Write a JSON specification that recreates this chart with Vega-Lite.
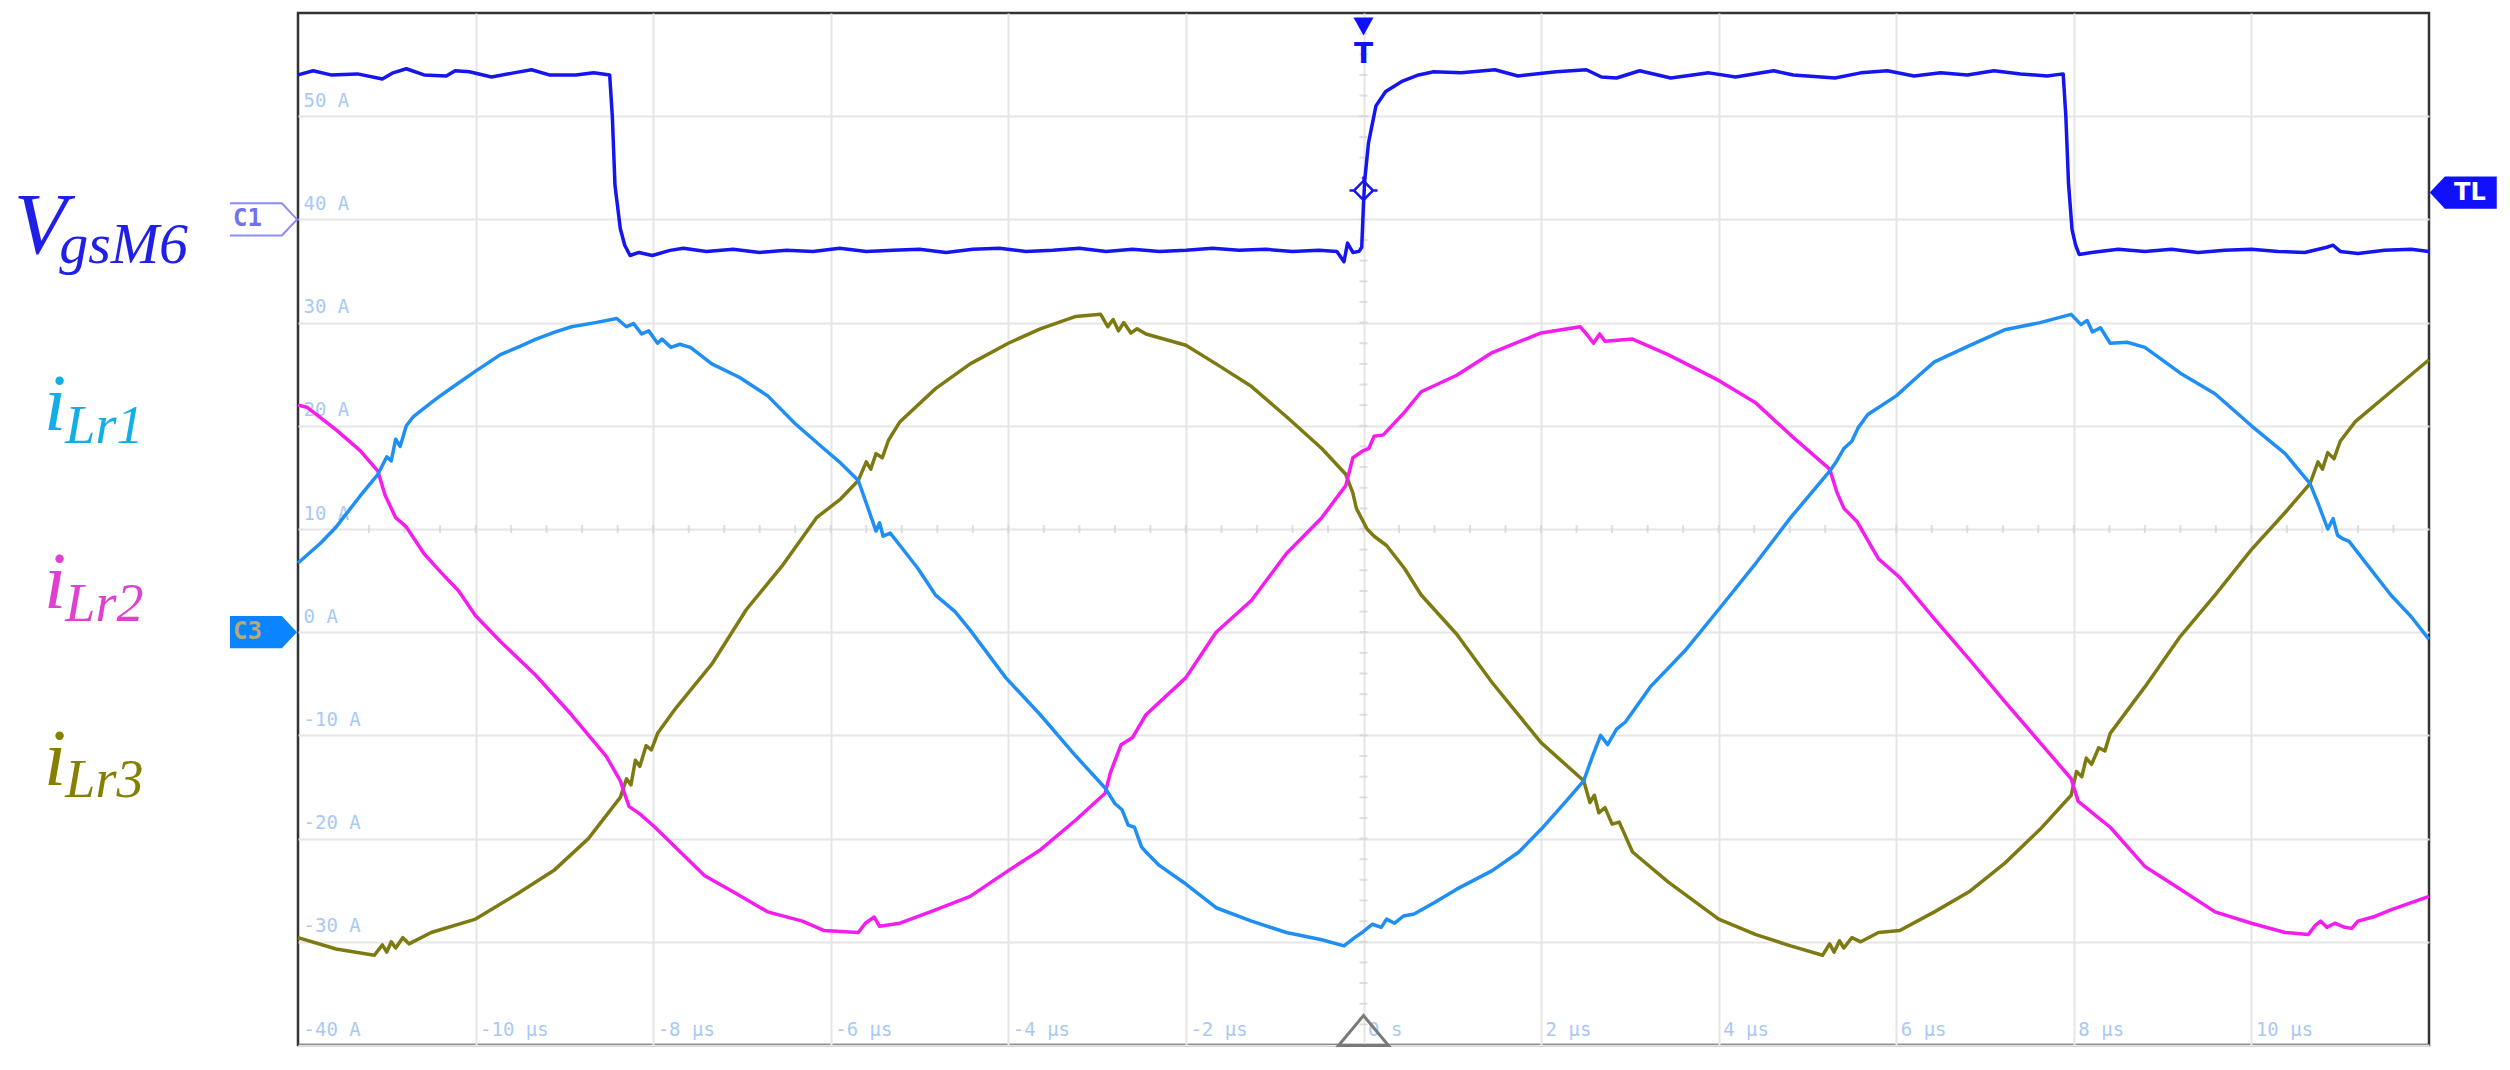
{
  "$schema": "https://vega.github.io/schema/vega-lite/v6.json",
  "autosize": {"type": "none"},
  "width": 2131,
  "height": 1032,
  "padding": {"left": 298, "top": 13, "right": 81, "bottom": 25},
  "background": "white",
  "config": {
    "view": {"stroke": "#333333", "strokeWidth": 2.5},
    "axis": {
      "grid": true, "gridColor": "#e6e6e6", "gridWidth": 2,
      "domain": false, "ticks": false, "tickSize": 0,
      "labelColor": "#a9c9f5", "labelFont": "DejaVu Sans Mono", "labelFontSize": 19,
      "labelFlush": false, "labelOverlap": false, "labelBound": false, "title": null
    }
  },
  "layer": [
    {
      "data": {"values": [{"t":-11.6},{"t":-11.2},{"t":-10.8},{"t":-10.4},{"t":-10},{"t":-9.6},{"t":-9.2},{"t":-8.8},{"t":-8.4},{"t":-8},{"t":-7.6},{"t":-7.2},{"t":-6.8},{"t":-6.4},{"t":-6},{"t":-5.6},{"t":-5.2},{"t":-4.8},{"t":-4.4},{"t":-4},{"t":-3.6},{"t":-3.2},{"t":-2.8},{"t":-2.4},{"t":-2},{"t":-1.6},{"t":-1.2},{"t":-0.8},{"t":-0.4},{"t":0},{"t":0.4},{"t":0.8},{"t":1.2},{"t":1.6},{"t":2},{"t":2.4},{"t":2.8},{"t":3.2},{"t":3.6},{"t":4},{"t":4.4},{"t":4.8},{"t":5.2},{"t":5.6},{"t":6},{"t":6.4},{"t":6.8},{"t":7.2},{"t":7.6},{"t":8},{"t":8.4},{"t":8.8},{"t":9.2},{"t":9.6},{"t":10},{"t":10.4},{"t":10.8},{"t":11.2},{"t":11.6}]},
      "mark": {"type": "tick", "orient": "vertical", "size": 8, "thickness": 2, "color": "#d2d2d2"},
      "encoding": {
        "x": {"field": "t", "type": "quantitative", "scale": {"domain": [-12, 12], "nice": false, "zero": false},
              "axis": {"orient": "bottom", "values": [-10,-8,-6,-4,-2,0,2,4,6,8,10], "labelAlign": "left", "labelBaseline": "alphabetic", "labelPadding": -10, "labelOffset": 4,
                       "labelExpr": "datum.value == 0 ? '0 s' : datum.value + ' µs'"}},
        "y": {"datum": 10, "type": "quantitative", "scale": {"domain": [-40, 60], "nice": false, "zero": false},
              "axis": {"orient": "left", "values": [-40,-30,-20,-10,0,10,20,30,40,50], "labelAlign": "left", "labelBaseline": "alphabetic", "labelPadding": -5, "labelOffset": -10,
                       "labelExpr": "datum.value + ' A'"}}
      }
    },
    {
      "data": {"values": [{"v":-38},{"v":-36},{"v":-34},{"v":-32},{"v":-30},{"v":-28},{"v":-26},{"v":-24},{"v":-22},{"v":-20},{"v":-18},{"v":-16},{"v":-14},{"v":-12},{"v":-10},{"v":-8},{"v":-6},{"v":-4},{"v":-2},{"v":0},{"v":2},{"v":4},{"v":6},{"v":8},{"v":10},{"v":12},{"v":14},{"v":16},{"v":18},{"v":20},{"v":22},{"v":24},{"v":26},{"v":28},{"v":30},{"v":32},{"v":34},{"v":36},{"v":38},{"v":40},{"v":42},{"v":44},{"v":46},{"v":48},{"v":50},{"v":52},{"v":54},{"v":56},{"v":58}]},
      "mark": {"type": "tick", "orient": "horizontal", "size": 8, "thickness": 2, "color": "#d2d2d2"},
      "encoding": {
        "x": {"datum": 0, "type": "quantitative"},
        "y": {"field": "v", "type": "quantitative"}
      }
    },
    {
      "data": {"values": [
        {"series":"iLr3","t":-12,"v":-29.6},{"series":"iLr3","t":-11.57,"v":-30.7},{"series":"iLr3","t":-11.14,"v":-31.3},{"series":"iLr3","t":-11.05,"v":-30.3},{"series":"iLr3","t":-11.0,"v":-31.0},{"series":"iLr3","t":-10.95,"v":-30.0},{"series":"iLr3","t":-10.9,"v":-30.6},{"series":"iLr3","t":-10.82,"v":-29.6},{"series":"iLr3","t":-10.75,"v":-30.2},{"series":"iLr3","t":-10.5,"v":-29.1},{"series":"iLr3","t":-10.0,"v":-27.8},{"series":"iLr3","t":-9.52,"v":-25.3},{"series":"iLr3","t":-9.12,"v":-23.1},{"series":"iLr3","t":-8.73,"v":-20.0},{"series":"iLr3","t":-8.37,"v":-16.0},{"series":"iLr3","t":-8.3,"v":-14.2},{"series":"iLr3","t":-8.25,"v":-14.8},{"series":"iLr3","t":-8.2,"v":-12.4},{"series":"iLr3","t":-8.15,"v":-13.0},{"series":"iLr3","t":-8.08,"v":-11.0},{"series":"iLr3","t":-8.02,"v":-11.4},{"series":"iLr3","t":-7.95,"v":-9.8},{"series":"iLr3","t":-7.74,"v":-7.3},{"series":"iLr3","t":-7.34,"v":-3.1},{"series":"iLr3","t":-6.95,"v":2.2},{"series":"iLr3","t":-6.55,"v":6.4},{"series":"iLr3","t":-6.16,"v":11.1},{"series":"iLr3","t":-5.89,"v":12.9},{"series":"iLr3","t":-5.69,"v":14.7},{"series":"iLr3","t":-5.6,"v":16.5},{"series":"iLr3","t":-5.55,"v":15.8},{"series":"iLr3","t":-5.49,"v":17.3},{"series":"iLr3","t":-5.42,"v":16.9},{"series":"iLr3","t":-5.35,"v":18.6},{"series":"iLr3","t":-5.22,"v":20.4},{"series":"iLr3","t":-4.82,"v":23.6},{"series":"iLr3","t":-4.43,"v":26.0},{"series":"iLr3","t":-4.0,"v":28.0},{"series":"iLr3","t":-3.64,"v":29.4},{"series":"iLr3","t":-3.24,"v":30.6},{"series":"iLr3","t":-2.96,"v":30.8},{"series":"iLr3","t":-2.88,"v":29.6},{"series":"iLr3","t":-2.82,"v":30.3},{"series":"iLr3","t":-2.76,"v":29.2},{"series":"iLr3","t":-2.7,"v":30.0},{"series":"iLr3","t":-2.62,"v":29.0},{"series":"iLr3","t":-2.55,"v":29.4},{"series":"iLr3","t":-2.45,"v":28.9},{"series":"iLr3","t":-2.0,"v":27.8},{"series":"iLr3","t":-1.66,"v":26.0},{"series":"iLr3","t":-1.26,"v":23.8},{"series":"iLr3","t":-0.87,"v":20.9},{"series":"iLr3","t":-0.47,"v":17.8},{"series":"iLr3","t":-0.2,"v":15.3},{"series":"iLr3","t":-0.12,"v":13.5},{"series":"iLr3","t":-0.08,"v":12.0},{"series":"iLr3","t":0.04,"v":10.0},{"series":"iLr3","t":0.12,"v":9.3},{"series":"iLr3","t":0.26,"v":8.4},{"series":"iLr3","t":0.46,"v":6.2},{"series":"iLr3","t":0.65,"v":3.6},{"series":"iLr3","t":1.05,"v":-0.2},{"series":"iLr3","t":1.45,"v":-4.9},{"series":"iLr3","t":2.0,"v":-10.7},{"series":"iLr3","t":2.48,"v":-14.4},{"series":"iLr3","t":2.55,"v":-16.5},{"series":"iLr3","t":2.6,"v":-15.8},{"series":"iLr3","t":2.65,"v":-17.5},{"series":"iLr3","t":2.72,"v":-17.0},{"series":"iLr3","t":2.8,"v":-18.6},{"series":"iLr3","t":2.88,"v":-18.4},{"series":"iLr3","t":3.03,"v":-21.3},{"series":"iLr3","t":3.43,"v":-24.2},{"series":"iLr3","t":4.0,"v":-27.8},{"series":"iLr3","t":4.42,"v":-29.3},{"series":"iLr3","t":4.81,"v":-30.4},{"series":"iLr3","t":5.17,"v":-31.3},{"series":"iLr3","t":5.25,"v":-30.2},{"series":"iLr3","t":5.3,"v":-31.0},{"series":"iLr3","t":5.36,"v":-29.9},{"series":"iLr3","t":5.41,"v":-30.6},{"series":"iLr3","t":5.5,"v":-29.6},{"series":"iLr3","t":5.6,"v":-30.0},{"series":"iLr3","t":5.8,"v":-29.1},{"series":"iLr3","t":6.04,"v":-28.9},{"series":"iLr3","t":6.43,"v":-27.1},{"series":"iLr3","t":6.83,"v":-25.1},{"series":"iLr3","t":7.22,"v":-22.4},{"series":"iLr3","t":7.62,"v":-19.1},{"series":"iLr3","t":7.97,"v":-15.8},{"series":"iLr3","t":8.03,"v":-13.5},{"series":"iLr3","t":8.09,"v":-14.0},{"series":"iLr3","t":8.14,"v":-12.2},{"series":"iLr3","t":8.2,"v":-12.8},{"series":"iLr3","t":8.28,"v":-11.2},{"series":"iLr3","t":8.35,"v":-11.5},{"series":"iLr3","t":8.41,"v":-9.8},{"series":"iLr3","t":8.8,"v":-5.3},{"series":"iLr3","t":9.2,"v":-0.4},{"series":"iLr3","t":9.59,"v":3.6},{"series":"iLr3","t":10.0,"v":8.0},{"series":"iLr3","t":10.38,"v":11.6},{"series":"iLr3","t":10.66,"v":14.4},{"series":"iLr3","t":10.75,"v":16.5},{"series":"iLr3","t":10.8,"v":15.8},{"series":"iLr3","t":10.86,"v":17.4},{"series":"iLr3","t":10.93,"v":16.8},{"series":"iLr3","t":11.0,"v":18.5},{"series":"iLr3","t":11.17,"v":20.4},{"series":"iLr3","t":11.57,"v":23.3},{"series":"iLr3","t":12.0,"v":26.4},

        {"series":"iLr2","t":-12,"v":22.0},{"series":"iLr2","t":-11.9,"v":21.8},{"series":"iLr2","t":-11.57,"v":19.6},{"series":"iLr2","t":-11.3,"v":17.6},{"series":"iLr2","t":-11.1,"v":15.6},{"series":"iLr2","t":-11.02,"v":13.3},{"series":"iLr2","t":-10.9,"v":11.1},{"series":"iLr2","t":-10.78,"v":10.2},{"series":"iLr2","t":-10.58,"v":7.6},{"series":"iLr2","t":-10.39,"v":5.8},{"series":"iLr2","t":-10.19,"v":4.0},{"series":"iLr2","t":-10.0,"v":1.6},{"series":"iLr2","t":-9.72,"v":-0.9},{"series":"iLr2","t":-9.32,"v":-4.2},{"series":"iLr2","t":-8.92,"v":-8.0},{"series":"iLr2","t":-8.53,"v":-12.0},{"series":"iLr2","t":-8.37,"v":-14.4},{"series":"iLr2","t":-8.3,"v":-16.2},{"series":"iLr2","t":-8.27,"v":-16.9},{"series":"iLr2","t":-8.15,"v":-17.6},{"series":"iLr2","t":-7.98,"v":-18.9},{"series":"iLr2","t":-7.74,"v":-20.9},{"series":"iLr2","t":-7.42,"v":-23.6},{"series":"iLr2","t":-7.11,"v":-25.1},{"series":"iLr2","t":-6.71,"v":-27.1},{"series":"iLr2","t":-6.32,"v":-28.0},{"series":"iLr2","t":-6.08,"v":-28.9},{"series":"iLr2","t":-5.69,"v":-29.1},{"series":"iLr2","t":-5.61,"v":-28.2},{"series":"iLr2","t":-5.51,"v":-27.6},{"series":"iLr2","t":-5.45,"v":-28.5},{"series":"iLr2","t":-5.22,"v":-28.2},{"series":"iLr2","t":-4.82,"v":-26.9},{"series":"iLr2","t":-4.43,"v":-25.6},{"series":"iLr2","t":-4.0,"v":-23.1},{"series":"iLr2","t":-3.64,"v":-21.1},{"series":"iLr2","t":-3.24,"v":-18.2},{"series":"iLr2","t":-2.91,"v":-15.6},{"series":"iLr2","t":-2.85,"v":-13.6},{"series":"iLr2","t":-2.73,"v":-10.9},{"series":"iLr2","t":-2.6,"v":-10.2},{"series":"iLr2","t":-2.45,"v":-8.0},{"series":"iLr2","t":-2.0,"v":-4.4},{"series":"iLr2","t":-1.66,"v":0.0},{"series":"iLr2","t":-1.26,"v":3.1},{"series":"iLr2","t":-0.87,"v":7.6},{"series":"iLr2","t":-0.47,"v":11.1},{"series":"iLr2","t":-0.2,"v":14.2},{"series":"iLr2","t":-0.12,"v":16.9},{"series":"iLr2","t":0.0,"v":17.6},{"series":"iLr2","t":0.06,"v":17.8},{"series":"iLr2","t":0.12,"v":19.0},{"series":"iLr2","t":0.22,"v":19.1},{"series":"iLr2","t":0.46,"v":21.3},{"series":"iLr2","t":0.65,"v":23.3},{"series":"iLr2","t":1.05,"v":24.9},{"series":"iLr2","t":1.45,"v":27.1},{"series":"iLr2","t":2.0,"v":29.0},{"series":"iLr2","t":2.44,"v":29.6},{"series":"iLr2","t":2.52,"v":28.8},{"series":"iLr2","t":2.59,"v":28.0},{"series":"iLr2","t":2.66,"v":28.9},{"series":"iLr2","t":2.72,"v":28.2},{"series":"iLr2","t":3.03,"v":28.4},{"series":"iLr2","t":3.43,"v":26.9},{"series":"iLr2","t":4.0,"v":24.4},{"series":"iLr2","t":4.42,"v":22.2},{"series":"iLr2","t":4.81,"v":19.1},{"series":"iLr2","t":5.25,"v":15.8},{"series":"iLr2","t":5.33,"v":13.6},{"series":"iLr2","t":5.41,"v":12.0},{"series":"iLr2","t":5.56,"v":10.7},{"series":"iLr2","t":5.8,"v":7.1},{"series":"iLr2","t":6.04,"v":5.3},{"series":"iLr2","t":6.43,"v":1.3},{"series":"iLr2","t":6.83,"v":-2.7},{"series":"iLr2","t":7.22,"v":-6.7},{"series":"iLr2","t":7.62,"v":-10.7},{"series":"iLr2","t":7.97,"v":-14.2},{"series":"iLr2","t":8.05,"v":-16.4},{"series":"iLr2","t":8.25,"v":-17.8},{"series":"iLr2","t":8.41,"v":-18.9},{"series":"iLr2","t":8.8,"v":-22.7},{"series":"iLr2","t":9.2,"v":-24.9},{"series":"iLr2","t":9.59,"v":-27.1},{"series":"iLr2","t":10.0,"v":-28.2},{"series":"iLr2","t":10.38,"v":-29.1},{"series":"iLr2","t":10.64,"v":-29.3},{"series":"iLr2","t":10.72,"v":-28.4},{"series":"iLr2","t":10.78,"v":-28.0},{"series":"iLr2","t":10.85,"v":-28.6},{"series":"iLr2","t":10.94,"v":-28.2},{"series":"iLr2","t":11.05,"v":-28.6},{"series":"iLr2","t":11.13,"v":-28.7},{"series":"iLr2","t":11.2,"v":-28.0},{"series":"iLr2","t":11.37,"v":-27.6},{"series":"iLr2","t":11.57,"v":-26.9},{"series":"iLr2","t":12.0,"v":-25.6},

        {"series":"iLr1","t":-12,"v":6.7},{"series":"iLr1","t":-11.75,"v":8.6},{"series":"iLr1","t":-11.57,"v":10.2},{"series":"iLr1","t":-11.3,"v":13.2},{"series":"iLr1","t":-11.1,"v":15.3},{"series":"iLr1","t":-11.0,"v":17.0},{"series":"iLr1","t":-10.95,"v":16.6},{"series":"iLr1","t":-10.9,"v":18.7},{"series":"iLr1","t":-10.85,"v":18.0},{"series":"iLr1","t":-10.78,"v":20.0},{"series":"iLr1","t":-10.7,"v":20.9},{"series":"iLr1","t":-10.55,"v":21.9},{"series":"iLr1","t":-10.43,"v":22.7},{"series":"iLr1","t":-10.2,"v":24.1},{"series":"iLr1","t":-10.0,"v":25.3},{"series":"iLr1","t":-9.72,"v":26.9},{"series":"iLr1","t":-9.5,"v":27.7},{"series":"iLr1","t":-9.32,"v":28.4},{"series":"iLr1","t":-9.1,"v":29.1},{"series":"iLr1","t":-8.92,"v":29.6},{"series":"iLr1","t":-8.65,"v":30.0},{"series":"iLr1","t":-8.41,"v":30.4},{"series":"iLr1","t":-8.3,"v":29.6},{"series":"iLr1","t":-8.22,"v":29.9},{"series":"iLr1","t":-8.13,"v":28.9},{"series":"iLr1","t":-8.05,"v":29.2},{"series":"iLr1","t":-7.95,"v":28.0},{"series":"iLr1","t":-7.9,"v":28.4},{"series":"iLr1","t":-7.8,"v":27.6},{"series":"iLr1","t":-7.7,"v":27.9},{"series":"iLr1","t":-7.58,"v":27.6},{"series":"iLr1","t":-7.34,"v":26.0},{"series":"iLr1","t":-7.03,"v":24.7},{"series":"iLr1","t":-6.71,"v":22.9},{"series":"iLr1","t":-6.4,"v":20.2},{"series":"iLr1","t":-6.08,"v":17.8},{"series":"iLr1","t":-5.89,"v":16.4},{"series":"iLr1","t":-5.69,"v":14.7},{"series":"iLr1","t":-5.6,"v":12.5},{"series":"iLr1","t":-5.49,"v":9.8},{"series":"iLr1","t":-5.45,"v":10.6},{"series":"iLr1","t":-5.41,"v":9.3},{"series":"iLr1","t":-5.33,"v":9.6},{"series":"iLr1","t":-5.22,"v":8.4},{"series":"iLr1","t":-5.02,"v":6.2},{"series":"iLr1","t":-4.82,"v":3.6},{"series":"iLr1","t":-4.6,"v":2.0},{"series":"iLr1","t":-4.43,"v":0.2},{"series":"iLr1","t":-4.03,"v":-4.4},{"series":"iLr1","t":-3.64,"v":-8.0},{"series":"iLr1","t":-3.24,"v":-12.0},{"series":"iLr1","t":-2.91,"v":-15.1},{"series":"iLr1","t":-2.8,"v":-16.6},{"series":"iLr1","t":-2.72,"v":-17.2},{"series":"iLr1","t":-2.65,"v":-18.7},{"series":"iLr1","t":-2.58,"v":-18.9},{"series":"iLr1","t":-2.5,"v":-20.8},{"series":"iLr1","t":-2.45,"v":-21.3},{"series":"iLr1","t":-2.3,"v":-22.6},{"series":"iLr1","t":-2.0,"v":-24.4},{"series":"iLr1","t":-1.66,"v":-26.7},{"series":"iLr1","t":-1.26,"v":-28.0},{"series":"iLr1","t":-0.87,"v":-29.1},{"series":"iLr1","t":-0.47,"v":-29.8},{"series":"iLr1","t":-0.22,"v":-30.4},{"series":"iLr1","t":-0.1,"v":-29.6},{"series":"iLr1","t":0.0,"v":-29.0},{"series":"iLr1","t":0.1,"v":-28.3},{"series":"iLr1","t":0.2,"v":-28.6},{"series":"iLr1","t":0.26,"v":-27.8},{"series":"iLr1","t":0.35,"v":-28.2},{"series":"iLr1","t":0.45,"v":-27.5},{"series":"iLr1","t":0.57,"v":-27.3},{"series":"iLr1","t":0.8,"v":-26.2},{"series":"iLr1","t":1.05,"v":-24.9},{"series":"iLr1","t":1.45,"v":-23.1},{"series":"iLr1","t":1.75,"v":-21.3},{"series":"iLr1","t":2.0,"v":-19.1},{"series":"iLr1","t":2.28,"v":-16.4},{"series":"iLr1","t":2.48,"v":-14.4},{"series":"iLr1","t":2.58,"v":-12.0},{"series":"iLr1","t":2.67,"v":-10.0},{"series":"iLr1","t":2.75,"v":-10.9},{"series":"iLr1","t":2.85,"v":-9.4},{"series":"iLr1","t":2.95,"v":-8.7},{"series":"iLr1","t":3.23,"v":-5.3},{"series":"iLr1","t":3.62,"v":-1.8},{"series":"iLr1","t":4.0,"v":2.2},{"series":"iLr1","t":4.42,"v":6.7},{"series":"iLr1","t":4.81,"v":11.1},{"series":"iLr1","t":5.25,"v":15.6},{"series":"iLr1","t":5.33,"v":16.6},{"series":"iLr1","t":5.41,"v":17.8},{"series":"iLr1","t":5.5,"v":18.5},{"series":"iLr1","t":5.57,"v":19.8},{"series":"iLr1","t":5.68,"v":21.1},{"series":"iLr1","t":6.0,"v":22.9},{"series":"iLr1","t":6.27,"v":25.0},{"series":"iLr1","t":6.43,"v":26.2},{"series":"iLr1","t":6.83,"v":27.8},{"series":"iLr1","t":7.22,"v":29.3},{"series":"iLr1","t":7.62,"v":30.0},{"series":"iLr1","t":7.97,"v":30.8},{"series":"iLr1","t":8.08,"v":29.8},{"series":"iLr1","t":8.15,"v":30.2},{"series":"iLr1","t":8.21,"v":29.1},{"series":"iLr1","t":8.3,"v":29.5},{"series":"iLr1","t":8.41,"v":28.0},{"series":"iLr1","t":8.6,"v":28.1},{"series":"iLr1","t":8.8,"v":27.6},{"series":"iLr1","t":9.2,"v":25.1},{"series":"iLr1","t":9.59,"v":23.1},{"series":"iLr1","t":10.0,"v":20.0},{"series":"iLr1","t":10.38,"v":17.3},{"series":"iLr1","t":10.66,"v":14.4},{"series":"iLr1","t":10.75,"v":12.5},{"series":"iLr1","t":10.86,"v":10.0},{"series":"iLr1","t":10.92,"v":11.0},{"series":"iLr1","t":10.97,"v":9.4},{"series":"iLr1","t":11.02,"v":9.1},{"series":"iLr1","t":11.1,"v":8.8},{"series":"iLr1","t":11.29,"v":6.7},{"series":"iLr1","t":11.57,"v":3.6},{"series":"iLr1","t":11.8,"v":1.5},{"series":"iLr1","t":12.0,"v":-0.7},

        {"series":"VgsM6","t":-12,"v":54.0},{"series":"VgsM6","t":-11.83,"v":54.4},{"series":"VgsM6","t":-11.63,"v":54.0},{"series":"VgsM6","t":-11.33,"v":54.1},{"series":"VgsM6","t":-11.05,"v":53.6},{"series":"VgsM6","t":-10.93,"v":54.2},{"series":"VgsM6","t":-10.78,"v":54.6},{"series":"VgsM6","t":-10.58,"v":54.0},{"series":"VgsM6","t":-10.33,"v":53.9},{"series":"VgsM6","t":-10.23,"v":54.4},{"series":"VgsM6","t":-10.07,"v":54.3},{"series":"VgsM6","t":-9.82,"v":53.8},{"series":"VgsM6","t":-9.57,"v":54.2},{"series":"VgsM6","t":-9.37,"v":54.5},{"series":"VgsM6","t":-9.17,"v":54.0},{"series":"VgsM6","t":-8.87,"v":54.0},{"series":"VgsM6","t":-8.67,"v":54.2},{"series":"VgsM6","t":-8.49,"v":54.0},{"series":"VgsM6","t":-8.46,"v":50.0},{"series":"VgsM6","t":-8.43,"v":43.3},{"series":"VgsM6","t":-8.37,"v":39.1},{"series":"VgsM6","t":-8.32,"v":37.5},{"series":"VgsM6","t":-8.26,"v":36.5},{"series":"VgsM6","t":-8.16,"v":36.8},{"series":"VgsM6","t":-8.01,"v":36.5},{"series":"VgsM6","t":-7.81,"v":37.0},{"series":"VgsM6","t":-7.66,"v":37.2},{"series":"VgsM6","t":-7.4,"v":36.9},{"series":"VgsM6","t":-7.1,"v":37.1},{"series":"VgsM6","t":-6.8,"v":36.8},{"series":"VgsM6","t":-6.5,"v":37.0},{"series":"VgsM6","t":-6.2,"v":36.9},{"series":"VgsM6","t":-5.9,"v":37.2},{"series":"VgsM6","t":-5.6,"v":36.9},{"series":"VgsM6","t":-5.3,"v":37.0},{"series":"VgsM6","t":-5.0,"v":37.1},{"series":"VgsM6","t":-4.7,"v":36.8},{"series":"VgsM6","t":-4.4,"v":37.1},{"series":"VgsM6","t":-4.1,"v":37.2},{"series":"VgsM6","t":-3.8,"v":36.9},{"series":"VgsM6","t":-3.5,"v":37.0},{"series":"VgsM6","t":-3.2,"v":37.2},{"series":"VgsM6","t":-2.9,"v":36.9},{"series":"VgsM6","t":-2.6,"v":37.1},{"series":"VgsM6","t":-2.3,"v":36.9},{"series":"VgsM6","t":-2.0,"v":37.0},{"series":"VgsM6","t":-1.7,"v":37.2},{"series":"VgsM6","t":-1.4,"v":37.0},{"series":"VgsM6","t":-1.1,"v":37.1},{"series":"VgsM6","t":-0.8,"v":36.9},{"series":"VgsM6","t":-0.5,"v":37.0},{"series":"VgsM6","t":-0.3,"v":36.9},{"series":"VgsM6","t":-0.22,"v":35.9},{"series":"VgsM6","t":-0.18,"v":37.7},{"series":"VgsM6","t":-0.12,"v":36.8},{"series":"VgsM6","t":-0.05,"v":36.9},{"series":"VgsM6","t":-0.02,"v":37.3},{"series":"VgsM6","t":0.0,"v":41.5},{"series":"VgsM6","t":0.015,"v":43.9},{"series":"VgsM6","t":0.056,"v":47.4},{"series":"VgsM6","t":0.14,"v":51.0},{"series":"VgsM6","t":0.25,"v":52.4},{"series":"VgsM6","t":0.44,"v":53.4},{"series":"VgsM6","t":0.62,"v":54.0},{"series":"VgsM6","t":0.79,"v":54.3},{"series":"VgsM6","t":1.1,"v":54.2},{"series":"VgsM6","t":1.48,"v":54.5},{"series":"VgsM6","t":1.74,"v":53.9},{"series":"VgsM6","t":2.17,"v":54.3},{"series":"VgsM6","t":2.51,"v":54.5},{"series":"VgsM6","t":2.68,"v":53.8},{"series":"VgsM6","t":2.85,"v":53.7},{"series":"VgsM6","t":3.11,"v":54.4},{"series":"VgsM6","t":3.46,"v":53.7},{"series":"VgsM6","t":3.89,"v":54.2},{"series":"VgsM6","t":4.19,"v":53.8},{"series":"VgsM6","t":4.62,"v":54.4},{"series":"VgsM6","t":4.84,"v":54.0},{"series":"VgsM6","t":5.31,"v":53.7},{"series":"VgsM6","t":5.6,"v":54.2},{"series":"VgsM6","t":5.9,"v":54.4},{"series":"VgsM6","t":6.2,"v":53.9},{"series":"VgsM6","t":6.5,"v":54.2},{"series":"VgsM6","t":6.8,"v":54.0},{"series":"VgsM6","t":7.1,"v":54.4},{"series":"VgsM6","t":7.4,"v":54.1},{"series":"VgsM6","t":7.7,"v":53.9},{"series":"VgsM6","t":7.88,"v":54.1},{"series":"VgsM6","t":7.91,"v":50.0},{"series":"VgsM6","t":7.94,"v":43.5},{"series":"VgsM6","t":7.98,"v":39.0},{"series":"VgsM6","t":8.02,"v":37.5},{"series":"VgsM6","t":8.06,"v":36.6},{"series":"VgsM6","t":8.2,"v":36.8},{"series":"VgsM6","t":8.5,"v":37.1},{"series":"VgsM6","t":8.8,"v":36.9},{"series":"VgsM6","t":9.1,"v":37.1},{"series":"VgsM6","t":9.4,"v":36.8},{"series":"VgsM6","t":9.7,"v":37.0},{"series":"VgsM6","t":10.0,"v":37.1},{"series":"VgsM6","t":10.3,"v":36.9},{"series":"VgsM6","t":10.6,"v":36.8},{"series":"VgsM6","t":10.85,"v":37.3},{"series":"VgsM6","t":10.92,"v":37.5},{"series":"VgsM6","t":11.0,"v":36.9},{"series":"VgsM6","t":11.2,"v":36.7},{"series":"VgsM6","t":11.5,"v":37.0},{"series":"VgsM6","t":11.8,"v":37.1},{"series":"VgsM6","t":12.0,"v":36.9}
      ]},
      "mark": {"type": "line", "strokeWidth": 3.5, "interpolate": "linear", "strokeJoin": "round"},
      "encoding": {
        "x": {"field": "t", "type": "quantitative"},
        "y": {"field": "v", "type": "quantitative"},
        "color": {"field": "series", "type": "nominal", "legend": null,
                  "scale": {"domain": ["iLr3", "iLr2", "iLr1", "VgsM6"], "range": ["#7d7a12", "#f51cf0", "#1f8ef5", "#1515f0"]}},
        "order": {"field": "t", "type": "quantitative"}
      }
    },
    {
      "data": {"values": [{}]},
      "mark": {"type": "point", "shape": "M-1,0L-0.68,0M0.68,0L1,0M0,-1L0,-0.68M0,0.68L0,1M0,-0.68L0.68,0L0,0.68L-0.68,0Z", "size": 784, "filled": false, "stroke": "#1515f0", "strokeWidth": 2.5, "opacity": 1},
      "encoding": {"x": {"datum": 0, "type": "quantitative"}, "y": {"datum": 42.8, "type": "quantitative"}}
    },
    {
      "data": {"values": [{}]},
      "mark": {"type": "point", "shape": "M-1,-0.9L1,-0.9L0,0.9Z", "size": 400, "filled": true, "color": "#1010ff", "opacity": 1},
      "encoding": {"x": {"datum": 0, "type": "quantitative"}, "y": {"datum": 58.7, "type": "quantitative"}}
    },
    {
      "data": {"values": [{}]},
      "mark": {"type": "text", "text": "T", "font": "DejaVu Sans", "fontWeight": "bold", "fontSize": 28, "color": "#1010ff", "align": "center", "baseline": "alphabetic"},
      "encoding": {"x": {"datum": 0, "type": "quantitative"}, "y": {"datum": 55.2, "type": "quantitative"}}
    },
    {
      "data": {"values": [{}]},
      "mark": {"type": "point", "shape": "M0,-0.6L1,0.6L-1,0.6Z", "size": 2500, "filled": false, "stroke": "#7a7a7a", "strokeWidth": 3, "opacity": 1},
      "encoding": {"x": {"datum": 0, "type": "quantitative"}, "y": {"datum": -38.6, "type": "quantitative"}}
    },
    {
      "data": {"values": [{}]},
      "mark": {"type": "point", "shape": "M-1,-0.48L0.55,-0.48L1,0L0.55,0.48L-1,0.48", "size": 4489, "filled": false, "stroke": "#8c8cff", "strokeWidth": 2, "opacity": 1},
      "encoding": {"x": {"datum": -12.389, "type": "quantitative"}, "y": {"datum": 40, "type": "quantitative"}}
    },
    {
      "data": {"values": [{}]},
      "mark": {"type": "text", "text": "C1", "font": "DejaVu Sans Mono", "fontWeight": "bold", "fontSize": 24, "color": "#7070f0", "align": "center", "baseline": "middle"},
      "encoding": {"x": {"datum": -12.57, "type": "quantitative"}, "y": {"datum": 40, "type": "quantitative"}}
    },
    {
      "data": {"values": [{}]},
      "mark": {"type": "point", "shape": "M-1,-0.48L0.55,-0.48L1,0L0.55,0.48L-1,0.48Z", "size": 4489, "filled": true, "color": "#0a84ff", "opacity": 1},
      "encoding": {"x": {"datum": -12.389, "type": "quantitative"}, "y": {"datum": 0, "type": "quantitative"}}
    },
    {
      "data": {"values": [{}]},
      "mark": {"type": "text", "text": "C3", "font": "DejaVu Sans Mono", "fontWeight": "bold", "fontSize": 24, "color": "#b3a97a", "align": "center", "baseline": "middle"},
      "encoding": {"x": {"datum": -12.57, "type": "quantitative"}, "y": {"datum": 0, "type": "quantitative"}}
    },
    {
      "data": {"values": [{}]},
      "mark": {"type": "point", "shape": "M-1,0L-0.55,-0.48L1,-0.48L1,0.48L-0.55,0.48Z", "size": 4489, "filled": true, "color": "#1010ff", "opacity": 1},
      "encoding": {"x": {"datum": 12.386, "type": "quantitative"}, "y": {"datum": 42.6, "type": "quantitative"}}
    },
    {
      "data": {"values": [{}]},
      "mark": {"type": "text", "text": "TL", "font": "DejaVu Sans", "fontWeight": "bold", "fontSize": 24, "color": "white", "align": "center", "baseline": "middle"},
      "encoding": {"x": {"datum": 12.46, "type": "quantitative"}, "y": {"datum": 42.6, "type": "quantitative"}}
    },
    {
      "data": {"values": [{}]},
      "mark": {"type": "text", "text": "V", "font": "Liberation Serif", "fontStyle": "italic", "fontSize": 87, "color": "#1f1fe6", "align": "left", "baseline": "alphabetic"},
      "encoding": {"x": {"datum": -15.2, "type": "quantitative"}, "y": {"datum": 36.72, "type": "quantitative"}}
    },
    {
      "data": {"values": [{}]},
      "mark": {"type": "text", "text": "gsM6", "font": "Liberation Serif", "fontStyle": "italic", "fontSize": 58, "color": "#1f1fe6", "align": "left", "baseline": "alphabetic"},
      "encoding": {"x": {"datum": -14.69, "type": "quantitative"}, "y": {"datum": 35.76, "type": "quantitative"}}
    },
    {
      "data": {"values": [{}]},
      "mark": {"type": "text", "text": "i", "font": "Liberation Serif", "fontStyle": "italic", "fontSize": 80, "color": "#12aee8", "align": "left", "baseline": "alphabetic"},
      "encoding": {"x": {"datum": -14.86, "type": "quantitative"}, "y": {"datum": 19.57, "type": "quantitative"}}
    },
    {
      "data": {"values": [{}]},
      "mark": {"type": "text", "text": "Lr1", "font": "Liberation Serif", "fontStyle": "italic", "fontSize": 54, "color": "#12aee8", "align": "left", "baseline": "alphabetic"},
      "encoding": {"x": {"datum": -14.62, "type": "quantitative"}, "y": {"datum": 18.31, "type": "quantitative"}}
    },
    {
      "data": {"values": [{}]},
      "mark": {"type": "text", "text": "i", "font": "Liberation Serif", "fontStyle": "italic", "fontSize": 80, "color": "#e040d0", "align": "left", "baseline": "alphabetic"},
      "encoding": {"x": {"datum": -14.86, "type": "quantitative"}, "y": {"datum": 2.33, "type": "quantitative"}}
    },
    {
      "data": {"values": [{}]},
      "mark": {"type": "text", "text": "Lr2", "font": "Liberation Serif", "fontStyle": "italic", "fontSize": 54, "color": "#e040d0", "align": "left", "baseline": "alphabetic"},
      "encoding": {"x": {"datum": -14.62, "type": "quantitative"}, "y": {"datum": 1.07, "type": "quantitative"}}
    },
    {
      "data": {"values": [{}]},
      "mark": {"type": "text", "text": "i", "font": "Liberation Serif", "fontStyle": "italic", "fontSize": 80, "color": "#858000", "align": "left", "baseline": "alphabetic"},
      "encoding": {"x": {"datum": -14.86, "type": "quantitative"}, "y": {"datum": -14.83, "type": "quantitative"}}
    },
    {
      "data": {"values": [{}]},
      "mark": {"type": "text", "text": "Lr3", "font": "Liberation Serif", "fontStyle": "italic", "fontSize": 54, "color": "#858000", "align": "left", "baseline": "alphabetic"},
      "encoding": {"x": {"datum": -14.62, "type": "quantitative"}, "y": {"datum": -15.99, "type": "quantitative"}}
    }
  ]
}
